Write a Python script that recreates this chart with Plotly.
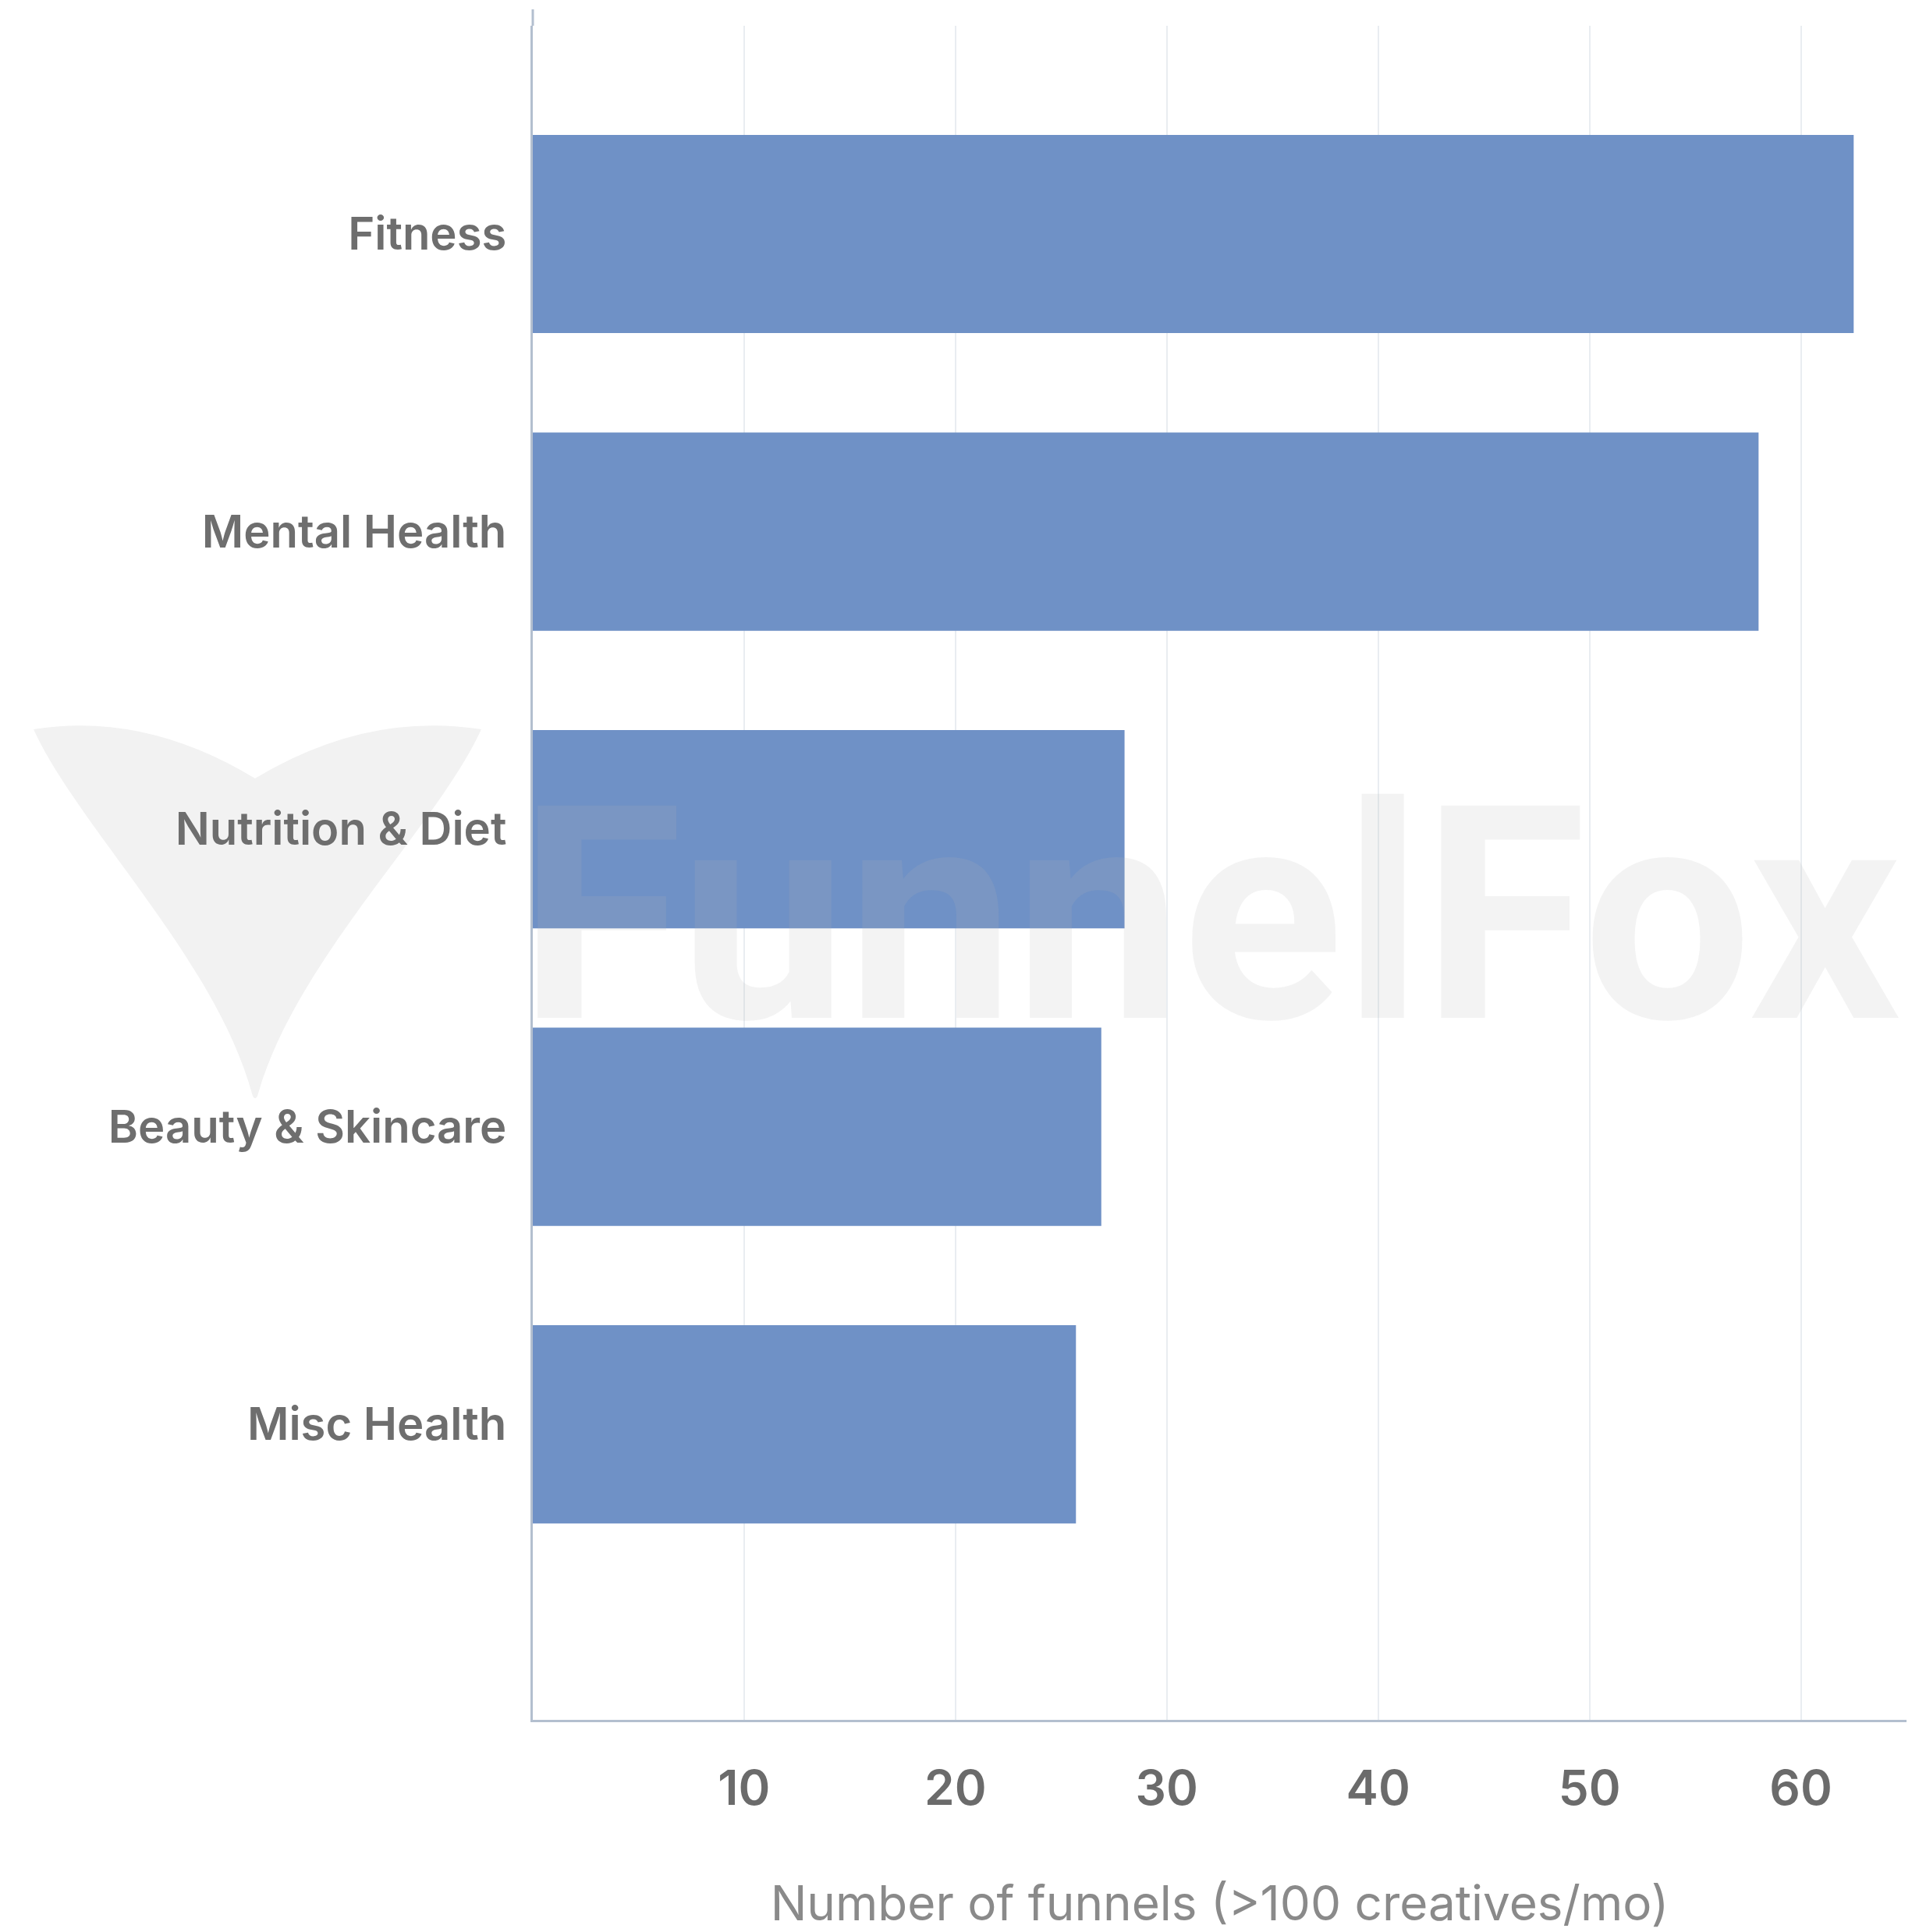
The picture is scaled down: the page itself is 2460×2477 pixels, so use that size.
import plotly.graph_objects as go

# Data
categories = ["Fitness", "Mental Health", "Nutrition & Diet", "Beauty & Skincare", "Misc Health"]
funnels = [62.5, 58.0, 28.0, 26.9, 25.7]
tick_values = [10, 20, 30, 40, 50, 60]
tick_labels = ["10", "20", "30", "40", "50", "60"]

W, H = 2460, 2477
ML, MR, MT, MB = 683, 16, 33, 272
PW, PH = W - ML - MR, H - MT - MB

BAR = "#6f91c6"
LABEL = "#6e6e6e"
AXIS = "#b3bfcf"
FONT = "Inter"


def px_to_paper(x, y):
    return (x - ML) / PW, (H - MB - y) / PH


def path_from_pixels(cmds):
    parts = []
    for c in cmds:
        op, pts = c[0], c[1:]
        coords = []
        for (x, y) in pts:
            u, v = px_to_paper(x, y)
            coords.append(f"{u:.5f},{v:.5f}")
        parts.append(op + " " + " ".join(coords))
    return " ".join(parts) + " Z"


# Brand mark on the left, drawn as a soft grey path behind the labels
logo_path = path_from_pixels([
    ("M", (43, 935)),
    ("Q", (185, 912), (327, 998)),
    ("Q", (470, 912), (617, 935)),
    ("C", (560, 1060), (380, 1230), (331, 1402)),
    ("C", (329, 1410), (325, 1410), (323, 1402)),
    ("C", (276, 1230), (100, 1060), (43, 935)),
])

fig = go.Figure(
    go.Bar(
        x=funnels,
        y=categories,
        orientation="h",
        marker=dict(color=BAR, line=dict(width=0)),
        width=0.666,
        hoverinfo="x+y",
    )
)

wm_x, wm_y = px_to_paper(1552, 1175)
top_ext = px_to_paper(683, 12)[1]

fig.update_layout(
    width=W,
    height=H,
    margin=dict(l=ML, r=MR, t=MT, b=MB, autoexpand=False),
    paper_bgcolor="white",
    plot_bgcolor="white",
    showlegend=False,
    font=dict(family=FONT, color=LABEL),
    shapes=[
        dict(
            type="path",
            xref="paper",
            yref="paper",
            path=logo_path,
            fillcolor="#f2f2f2",
            line=dict(width=0),
            layer="below",
        ),
        # value axis line continues a little above the plotting area
        dict(
            type="line",
            xref="paper",
            yref="paper",
            x0=0, x1=0, y0=1, y1=top_ext,
            line=dict(color=AXIS, width=3),
        ),
    ],
    annotations=[
        dict(
            text="<b>FunnelFox</b>",
            xref="paper",
            yref="paper",
            x=wm_x,
            y=wm_y,
            xanchor="center",
            yanchor="middle",
            showarrow=False,
            font=dict(family="Roboto", size=383, color="rgba(180,180,180,0.16)"),
        )
    ],
)

fig.update_xaxes(
    range=[0, 65],
    tickvals=tick_values,
    ticktext=tick_labels,
    showgrid=True,
    gridcolor="#e9edf1",
    gridwidth=2,
    zeroline=False,
    showline=True,
    linecolor=AXIS,
    linewidth=3,
    ticks="",
    ticklabelstandoff=32,
    tickfont=dict(family=FONT, size=62, color="#6b6b6b", weight=600),
    title=dict(
        text="Number of funnels (>100 creatives/mo)",
        font=dict(family=FONT, size=62, color="#8a8a8a", weight=400),
        standoff=96,
    ),
    automargin=False,
)

fig.update_yaxes(
    range=[4.993, -0.700],
    showgrid=False,
    zeroline=False,
    showline=True,
    linecolor=AXIS,
    linewidth=3,
    ticks="",
    ticklabelstandoff=19,
    tickfont=dict(family=FONT, size=58, color=LABEL, weight=600),
    automargin=False,
)

fig.write_html("out.html")
